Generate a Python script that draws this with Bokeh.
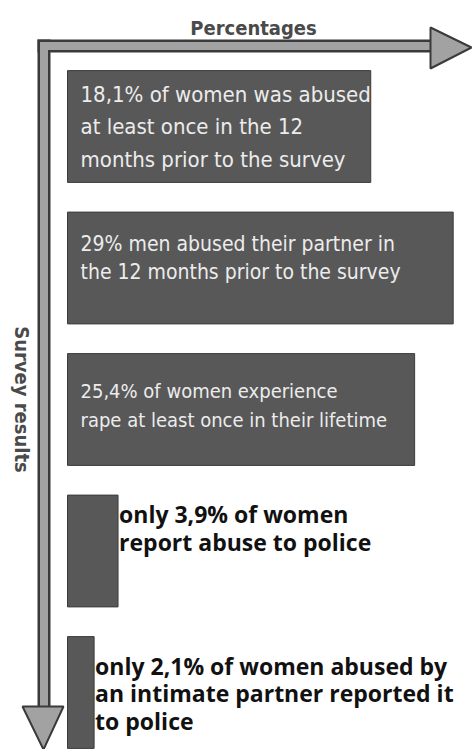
import math
from bokeh.plotting import figure
from bokeh.models import Range1d, ColumnDataSource, Label
from bokeh.core.properties import value
from bokeh.embed import file_html
from bokeh.resources import INLINE

# ---------------- data ----------------
rows = [0, 1, 2, 3, 4]
stated_pct = [18.1, 29.0, 25.4, 3.9, 2.1]
# drawn bar lengths as they appear in the picture (percent-scale units)
bar_length = [22.8, 29.0, 26.1, 3.8, 2.0]
labels = [
    "18,1% of women was abused\nat least once in the 12\nmonths prior to the survey",
    "29% men abused their partner in\nthe 12 months prior to the survey",
    "25,4% of women experience\nrape at least once in their lifetime",
    "only 3,9% of women\nreport abuse to police",
    "only 2,1% of women abused by\nan intimate partner reported it\nto police",
]
x_title = "Percentages"
y_title = "Survey results"

# ---------------- layout / style ----------------
W, H = 474, 749
PX_X = 13.3      # pixels per percent unit
X0 = 67          # pixel of zero
PX_Y = 141.5     # pixels per row
Y0 = 126         # pixel of row 0 centre
BAR_H = 0.79
INNER_SIZE = ["22px", "21px", "20px"]      # font size of the in-bar labels
INNER_LH = [1.3, 1.17, 1.2]                # line height of the in-bar labels
INNER_SHIFT = [0.0, -0.07, -0.03]          # vertical nudge (rows)
OUTER_SHIFT = [3, 13]                      # px below bar top for the outside labels


def dx(px):
    return (px - X0) / PX_X


def dy(py):
    return (py - Y0) / PX_Y


p = figure(width=W, height=H, output_backend="svg", toolbar_location=None,
           x_range=Range1d(dx(0), dx(W)), y_range=Range1d(dy(H), dy(0)),
           min_border=0, x_axis_location=None, y_axis_location=None)
p.title.visible = False
p.grid.visible = False
p.outline_line_color = None
p.background_fill_color = "white"
p.border_fill_color = "white"

NARROW = "DejaVu Sans Condensed"
DARK = "#3a3a3a"
SHAFT = "#a2a2a2"

# ---------------- axis arrows ----------------
p.quad(left=dx(37), right=dx(433), top=dy(39), bottom=dy(52), fill_color=DARK, line_color=None)
p.quad(left=dx(37), right=dx(50), top=dy(39), bottom=dy(712), fill_color=DARK, line_color=None)
p.quad(left=dx(39.5), right=dx(434), top=dy(41.5), bottom=dy(49.5), fill_color=SHAFT, line_color=None)
p.quad(left=dx(39.5), right=dx(47.5), top=dy(41.5), bottom=dy(714), fill_color=SHAFT, line_color=None)
p.patch(x=[dx(430), dx(471), dx(430)], y=[dy(27), dy(47), dy(68)],
        fill_color=SHAFT, line_color=DARK, line_width=2)
p.patch(x=[dx(22), dx(63), dx(43)], y=[dy(706), dy(706), dy(749)],
        fill_color=SHAFT, line_color=DARK, line_width=2)

# ---------------- bars ----------------
src = ColumnDataSource(dict(y=rows, right=bar_length, label=labels, pct=stated_pct))
p.hbar(y="y", left=0, right="right", height=BAR_H, source=src,
       fill_color="#585858", line_color="#3c3c3c", line_width=1)

big = [i for i in rows if bar_length[i] > 10]
small = [i for i in rows if bar_length[i] <= 10]
for k, i in enumerate(big):
    p.text(x=[0], y=[rows[i] + INNER_SHIFT[k]], text=[labels[i]],
           x_offset=13, text_align="left", text_baseline="middle",
           text_font=value(NARROW), text_font_size=INNER_SIZE[k], text_color="#ececec",
           text_line_height=INNER_LH[k])

for k, i in enumerate(small):
    p.text(x=[bar_length[i]], y=[rows[i] - BAR_H / 2], text=[labels[i]],
           x_offset=1, y_offset=OUTER_SHIFT[k], text_align="left", text_baseline="top",
           text_font=value("Open Sans"), text_font_style="bold", text_font_size="23px",
           text_color="#111111", text_line_height=0.86)

# ---------------- axis titles ----------------
p.add_layout(Label(x=dx(253), y=dy(27), text=x_title, text_align="center",
                   text_baseline="middle", text_font=NARROW, text_font_style="bold",
                   text_font_size="20px", text_color="#4a4a4a"))
p.add_layout(Label(x=dx(21), y=dy(399), text=y_title, angle=-math.pi / 2,
                   text_align="center", text_baseline="middle", text_font=NARROW,
                   text_font_style="bold", text_font_size="20px", text_color="#4a4a4a"))

open("out.html", "w").write(file_html(p, INLINE))
